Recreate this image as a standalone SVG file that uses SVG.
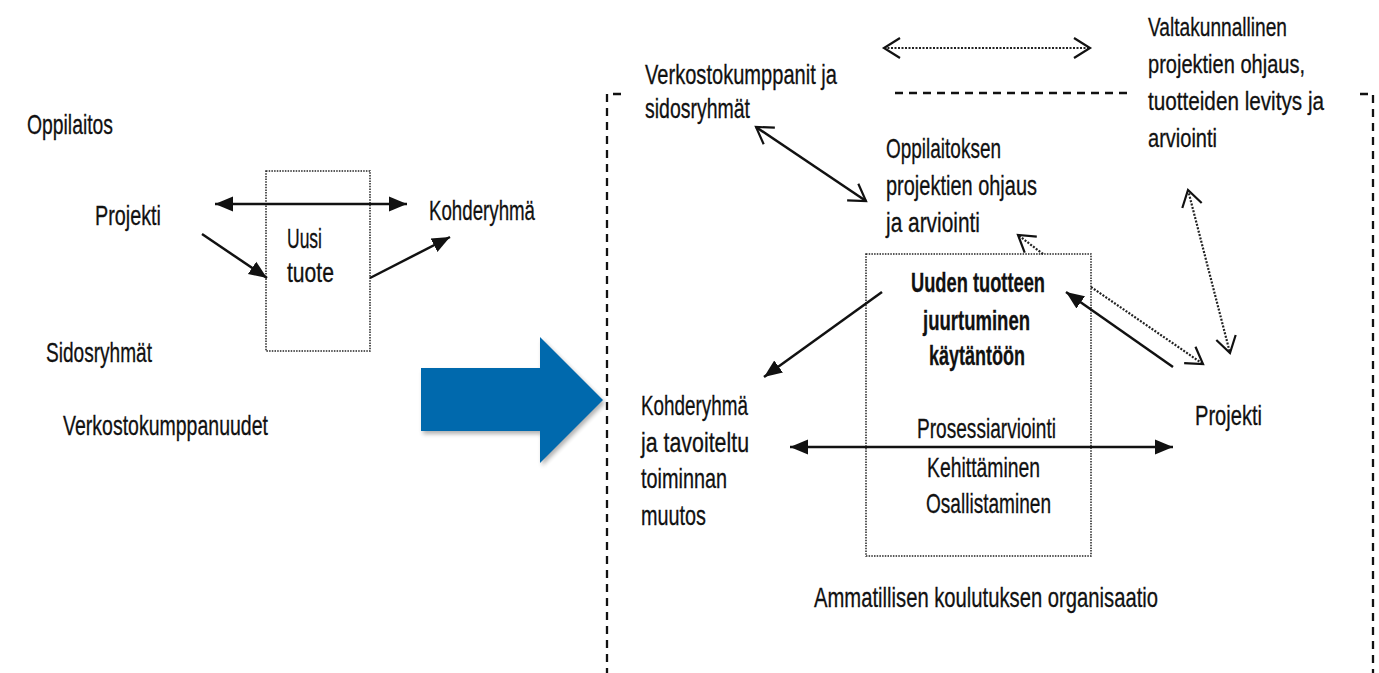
<svg xmlns="http://www.w3.org/2000/svg" width="1379" height="673" viewBox="0 0 1379 673">
<style>
text{font-family:"Liberation Sans Narrow","Liberation Sans",Arial,sans-serif;font-size:28px;fill:#111;stroke:#111;stroke-width:0.3;}
.b{font-weight:bold;}
.s{font-size:26px;}
.solid{stroke:#111;stroke-width:2.5;fill:none;}
.dot{stroke:#222;stroke-width:2.2;stroke-dasharray:2 1.5;fill:none;}
.box{stroke:#222;stroke-width:1.5;stroke-dasharray:1.5 1.2;fill:none;}
.frame{stroke:#111;stroke-width:2.3;stroke-dasharray:8 6;fill:none;}
</style>
<defs>
<marker id="fh" markerUnits="userSpaceOnUse" markerWidth="20" markerHeight="18" viewBox="0 0 20 18" refX="18" refY="9" orient="auto-start-reverse">
<path d="M0,1.5 L18,9 L0,16.5 z" fill="#111"/>
</marker>
<marker id="oh" markerUnits="userSpaceOnUse" markerWidth="20" markerHeight="24" viewBox="0 0 20 24" refX="17" refY="12" orient="auto-start-reverse">
<path d="M1,2 L17,12 L1,22" fill="none" stroke="#111" stroke-width="2.2" stroke-dasharray="none"/>
</marker>
<filter id="sh" x="-10%" y="-10%" width="130%" height="130%">
<feGaussianBlur stdDeviation="2"/>
</filter>
</defs>

<g id="left-box">
<rect class="box" x="266" y="171" width="104" height="180"/>
<text x="287" y="248" textLength="35" lengthAdjust="spacingAndGlyphs">Uusi</text>
<text x="287" y="282" textLength="47" lengthAdjust="spacingAndGlyphs">tuote</text>
</g>
<g id="left-oppilaitos"><text x="27" y="134" textLength="86" lengthAdjust="spacingAndGlyphs">Oppilaitos</text></g>
<g id="left-projekti"><text x="95" y="225" textLength="66" lengthAdjust="spacingAndGlyphs">Projekti</text></g>
<g id="left-kohderyhma"><text x="429" y="220" textLength="106" lengthAdjust="spacingAndGlyphs">Kohderyhmä</text></g>
<g id="left-sidosryhmat"><text x="46" y="362" textLength="106" lengthAdjust="spacingAndGlyphs">Sidosryhmät</text></g>
<g id="left-verkosto"><text x="63" y="435" textLength="205" lengthAdjust="spacingAndGlyphs">Verkostokumppanuudet</text></g>

<g id="big-arrow">
<polygon points="421,368 540,368 540,337 603,400 540,463 540,431 421,431" fill="#555" opacity="0.45" transform="translate(2,3)" filter="url(#sh)"/>
<polygon points="421,368 540,368 540,337 603,400 540,463 540,431 421,431" fill="#0069AD"/>
</g>

<g id="frame">
<path class="frame" d="M621,94 H607 V673"/>
<path class="frame" d="M1360,94 H1373 V673"/>
<line class="frame" x1="895" y1="93" x2="1128" y2="93"/>
</g>

<g id="verkostokumppanit">
<text x="645" y="84" textLength="192" lengthAdjust="spacingAndGlyphs">Verkostokumppanit ja</text>
<text x="645" y="118" textLength="105" lengthAdjust="spacingAndGlyphs">sidosryhmät</text>
</g>
<g id="valtakunnallinen">
<text class="s" x="1148" y="36" textLength="139" lengthAdjust="spacingAndGlyphs">Valtakunnallinen</text>
<text class="s" x="1148" y="73" textLength="157" lengthAdjust="spacingAndGlyphs">projektien ohjaus,</text>
<text class="s" x="1148" y="110" textLength="176" lengthAdjust="spacingAndGlyphs">tuotteiden levitys ja</text>
<text class="s" x="1148" y="147" textLength="69" lengthAdjust="spacingAndGlyphs">arviointi</text>
</g>
<g id="oppilaitoksen">
<text x="886" y="158" textLength="115" lengthAdjust="spacingAndGlyphs">Oppilaitoksen</text>
<text x="886" y="195" textLength="151" lengthAdjust="spacingAndGlyphs">projektien ohjaus</text>
<text x="886" y="232" textLength="94" lengthAdjust="spacingAndGlyphs">ja arviointi</text>
</g>
<g id="uuden-tuotteen">
<rect class="box" x="866" y="254" width="225" height="302"/>
<text class="b" x="911" y="292" textLength="134" lengthAdjust="spacingAndGlyphs">Uuden tuotteen</text>
<text class="b" x="923" y="330" textLength="107" lengthAdjust="spacingAndGlyphs">juurtuminen</text>
<text class="b" x="929" y="365" textLength="96" lengthAdjust="spacingAndGlyphs">käytäntöön</text>
<text x="917" y="438" textLength="139" lengthAdjust="spacingAndGlyphs">Prosessiarviointi</text>
<text x="927" y="477" textLength="113" lengthAdjust="spacingAndGlyphs">Kehittäminen</text>
<text x="926" y="513" textLength="125" lengthAdjust="spacingAndGlyphs">Osallistaminen</text>
</g>
<g id="kohderyhma">
<text x="641" y="415" textLength="107" lengthAdjust="spacingAndGlyphs">Kohderyhmä</text>
<text x="641" y="452" textLength="108" lengthAdjust="spacingAndGlyphs">ja tavoiteltu</text>
<text x="641" y="488" textLength="86" lengthAdjust="spacingAndGlyphs">toiminnan</text>
<text x="641" y="525" textLength="65" lengthAdjust="spacingAndGlyphs">muutos</text>
</g>
<g id="projekti"><text x="1195" y="425" textLength="67" lengthAdjust="spacingAndGlyphs">Projekti</text></g>
<g id="organisaatio"><text x="814" y="607" textLength="344" lengthAdjust="spacingAndGlyphs">Ammatillisen koulutuksen organisaatio</text></g>

<g id="connectors">
<line class="solid" x1="215" y1="204" x2="407" y2="204" marker-start="url(#fh)" marker-end="url(#fh)"/>
<line class="solid" x1="202" y1="234" x2="267" y2="278" marker-end="url(#fh)"/>
<line class="solid" x1="370" y1="278" x2="450" y2="237" marker-end="url(#fh)"/>
<line class="dot" x1="884" y1="48" x2="1090" y2="48" marker-start="url(#oh)" marker-end="url(#oh)"/>
<line class="solid" x1="756" y1="127" x2="866" y2="201" stroke-width="2" marker-start="url(#oh)" marker-end="url(#oh)"/>
<line class="solid" x1="882" y1="292" x2="764" y2="377" marker-end="url(#fh)"/>
<line class="solid" x1="1173" y1="367" x2="1066" y2="292" marker-end="url(#fh)"/>
<line class="dot" x1="1091" y1="287" x2="1203" y2="364" marker-end="url(#oh)"/>
<line class="dot" x1="1188" y1="190" x2="1230" y2="353" marker-start="url(#oh)" marker-end="url(#oh)"/>
<line class="dot" x1="1043" y1="254" x2="1018" y2="235" marker-end="url(#oh)"/>
<line class="solid" x1="790" y1="447" x2="1173" y2="447" marker-start="url(#fh)" marker-end="url(#fh)"/>
</g>
</svg>
